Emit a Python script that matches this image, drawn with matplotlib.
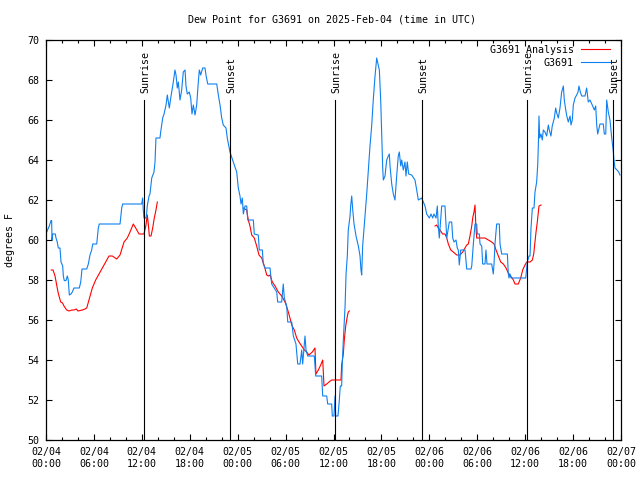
import numpy as np
import matplotlib
matplotlib.use("Agg")
import matplotlib.pyplot as plt
import matplotlib.transforms as mtransforms

plt.rcParams['font.family'] = ['DejaVu Sans Mono']
FS = 7.2

title = "Dew Point for G3691 on 2025-Feb-04 (time in UTC)"
ylabel = "degrees F"

# hours since 2025-02-04 00:00 UTC
blue_t = [0.09,0.41,0.63,0.71,0.75,0.84,1.16,1.25,1.41,1.54,1.75,1.88,2.09,2.17,2.29,2.5,2.67,2.79,2.92,3.13,3.29,3.5,4.17,4.35,4.51,5.1,5.3,5.51,5.72,5.85,6.35,6.55,6.67,9.27,9.48,9.6,11.98,12.1,12.18,12.27,12.52,12.6,12.68,12.9,13.02,13.24,13.52,13.65,13.77,14.27,14.36,14.61,14.78,15.03,15.19,15.44,15.62,15.82,15.94,16.15,16.28,16.44,16.57,16.78,16.99,17.19,17.41,17.53,17.69,17.94,18.12,18.28,18.45,18.66,18.87,19.07,19.2,19.37,19.62,19.91,20.03,20.25,21.38,21.58,21.79,22.0,22.2,22.54,22.7,23.04,23.45,23.88,24.08,24.29,24.42,24.58,24.71,24.92,25.13,25.26,25.96,26.08,26.58,26.71,27.09,27.21,27.42,28.05,28.26,28.89,29.01,29.51,29.71,29.84,30.14,30.27,30.77,30.97,31.3,31.52,31.81,32.02,32.14,32.43,32.56,32.77,33.6,33.77,34.52,34.65,35.15,35.27,35.77,35.85,36.06,36.19,36.27,36.56,36.73,36.85,37.02,37.1,37.23,37.45,37.57,37.73,37.85,38.07,38.15,38.28,38.41,38.57,38.82,39.11,39.32,39.44,39.53,39.65,39.86,40.16,40.36,40.57,40.78,40.98,41.2,41.41,41.57,41.74,41.91,42.04,42.16,42.24,42.45,42.66,42.86,42.99,43.08,43.29,43.49,43.7,43.91,44.11,44.24,44.42,44.54,44.74,44.95,45.08,45.24,45.41,45.79,46.2,46.42,46.62,47.04,47.46,47.67,48.0,48.21,48.42,48.58,48.84,49.0,49.12,49.25,49.42,49.55,49.96,50.09,50.18,50.38,50.5,50.8,50.93,51.09,51.34,51.5,51.63,51.75,51.93,52.47,52.68,53.22,53.31,53.51,53.72,53.93,54.01,54.26,54.35,54.56,54.68,54.97,55.09,55.22,55.81,56.01,56.1,56.22,56.43,56.76,56.85,57.06,57.77,57.89,57.98,58.1,58.23,60.07,60.27,60.48,60.61,60.73,60.9,61.11,61.23,61.44,61.57,61.65,61.73,61.82,61.98,62.15,62.27,62.48,62.69,62.9,63.02,63.23,63.39,63.65,63.82,63.95,64.15,64.36,64.57,64.78,64.9,65.08,65.21,65.4,65.62,65.74,65.9,66.03,66.24,66.45,66.62,66.74,66.9,67.08,67.49,67.7,67.9,68.11,68.4,68.66,68.83,68.96,69.08,69.37,69.78,69.91,70.09,70.21,70.41,70.62,70.84,71.04,71.12,71.25,71.5,71.71,71.87]
blue_v = [60.4,60.7,60.97,60.97,60.0,60.3,60.3,60.1,59.9,59.6,59.6,58.9,58.7,58.2,57.97,57.97,58.2,58.0,57.25,57.3,57.4,57.6,57.6,57.9,58.55,58.55,58.8,59.25,59.5,59.8,59.8,60.6,60.8,60.8,61.6,61.8,61.8,62.1,61.5,61.1,61.1,61.3,61.7,62.2,62.3,63.1,63.4,63.9,65.1,65.1,65.4,66.1,66.3,66.75,67.25,66.6,67.1,67.6,67.9,68.5,68.25,67.6,67.9,67.0,67.5,68.4,68.5,67.7,67.3,67.4,67.1,66.3,66.75,66.25,66.75,67.9,68.5,68.25,68.6,68.6,68.25,67.8,67.8,67.25,66.75,66.1,65.75,65.6,65.1,64.4,63.9,63.4,62.6,62.2,61.8,62.1,61.3,61.7,61.7,61.0,61.0,60.3,60.25,59.5,59.5,58.8,58.6,58.6,57.8,57.4,56.9,56.9,57.8,57.1,56.7,55.9,55.9,55.2,54.8,53.8,53.8,54.5,53.8,55.2,54.5,54.2,54.2,53.2,53.2,52.2,52.2,51.8,51.8,51.2,51.2,52.2,51.2,51.2,52.0,52.7,52.7,53.8,55.0,56.7,58.3,59.2,60.5,61.2,61.7,62.2,61.5,60.8,60.2,59.7,59.2,58.5,58.25,59.7,60.8,62.3,63.5,64.7,65.7,67.0,68.2,69.1,68.8,68.5,67.0,65.3,63.6,63.0,63.2,64.0,64.2,64.3,63.7,62.8,62.3,62.0,63.2,64.2,64.4,63.7,64.0,63.5,63.9,63.2,63.9,63.3,63.25,63.0,62.5,62.0,62.1,61.7,61.3,61.1,61.3,61.1,61.3,61.1,61.7,60.7,60.1,61.0,61.7,61.7,60.8,60.1,60.6,60.9,60.9,60.1,59.9,60.0,59.6,59.5,58.75,59.5,59.5,58.55,58.55,58.7,59.8,60.8,60.8,60.3,60.3,59.8,59.7,58.8,58.8,59.5,58.8,58.8,58.3,58.8,59.8,60.8,60.8,59.8,59.3,59.3,58.3,58.1,58.3,58.1,58.1,58.9,59.2,59.2,60.6,61.6,61.6,62.4,62.9,63.75,64.75,66.2,65.1,65.3,65.0,65.5,65.4,65.2,65.75,65.5,65.2,65.7,66.1,66.6,66.35,66.1,66.6,67.4,67.7,67.0,66.5,66.2,65.9,66.2,65.75,66.0,66.75,67.1,67.25,67.4,67.7,67.4,67.2,67.2,67.6,66.9,67.0,66.75,66.5,66.7,65.75,65.3,65.8,65.8,65.3,65.3,67.0,66.4,66.0,65.1,64.4,64.0,63.6,63.5,63.4,63.25]

red_t1 = [0.66,0.88,1.13,1.34,1.5,1.63,1.84,2.07,2.25,2.59,2.88,3.26,3.51,3.79,4.0,4.55,4.88,5.1,5.38,5.8,6.22,6.64,7.05,7.48,7.89,8.3,8.85,9.27,9.77,10.18,10.52,10.93,11.23,11.65,11.93,12.27,12.52,12.68,12.81,12.94,13.15,13.36,13.56,13.77,13.94]
red_v1 = [58.5,58.5,58.2,57.75,57.4,57.2,56.9,56.85,56.7,56.5,56.45,56.5,56.5,56.55,56.45,56.5,56.55,56.6,57.0,57.6,58.0,58.3,58.6,58.9,59.2,59.2,59.05,59.25,59.9,60.1,60.4,60.8,60.6,60.3,60.3,60.3,60.75,61.25,60.8,60.2,60.2,60.6,61.1,61.5,61.9]
red_t2 = [24.71,25.13,25.33,25.54,25.76,26.08,26.38,26.67,27.01,27.34,27.64,27.84,28.05,28.34,28.68,29.09,29.51,29.93,30.27,30.55,30.77,31.09,31.39,31.68,32.02,32.35,32.64,32.93,33.35,33.68,33.8,34.1,34.4,34.65,34.81,35.15,35.44,35.77,36.31,36.94,37.02,37.23,37.35,37.53,37.69,37.85,37.98]
red_v2 = [61.6,61.5,61.0,60.7,60.25,60.1,59.7,59.25,59.1,58.7,58.25,58.2,58.25,57.9,57.7,57.4,57.2,56.9,56.5,56.1,55.75,55.5,55.1,54.9,54.7,54.5,54.4,54.25,54.4,54.6,53.3,53.5,53.75,54.0,52.7,52.8,52.9,53.0,53.0,53.0,53.75,54.3,55.0,55.7,56.1,56.4,56.45]
red_t3 = [48.71,48.92,49.12,49.42,49.67,49.96,50.18,50.38,50.68,51.0,51.43,51.84,52.18,52.47,52.68,52.88,53.09,53.31,53.43,53.59,53.72,53.81,53.93,54.35,54.97,55.38,55.81,56.1,56.35,56.64,56.94,57.27,57.6,57.89,58.19,58.52,58.73,59.14,59.44,59.69,59.98,60.19,60.61,60.9,61.07,61.23,61.36,61.52,61.65,61.73,61.98]
red_v3 = [60.7,60.75,60.6,60.45,60.3,60.3,60.1,59.8,59.5,59.4,59.25,59.25,59.4,59.6,59.75,59.8,60.2,60.7,61.1,61.4,61.75,60.8,60.1,60.1,60.1,60.0,59.9,59.8,59.5,59.2,58.9,58.8,58.6,58.35,58.2,58.0,57.8,57.8,58.1,58.5,58.75,58.9,58.9,59.0,59.3,59.9,60.4,60.9,61.4,61.7,61.75]

sun_t = [12.3, 23.07, 36.2, 47.1, 60.2, 71.0]
sun_lbl = ["Sunrise", "Sunset", "Sunrise", "Sunset", "Sunrise", "Sunset"]

xtick_pos = [0, 6, 12, 18, 24, 30, 36, 42, 48, 54, 60, 66, 72]
xtick_lbl = ["02/04\n00:00", "02/04\n06:00", "02/04\n12:00", "02/04\n18:00",
             "02/05\n00:00", "02/05\n06:00", "02/05\n12:00", "02/05\n18:00",
             "02/06\n00:00", "02/06\n06:00", "02/06\n12:00", "02/06\n18:00",
             "02/07\n00:00"]
ytick_pos = [50, 52, 54, 56, 58, 60, 62, 64, 66, 68, 70]

RED = '#ff0000'
BLUE = '#0f80ef'

fig = plt.figure(figsize=(6.4, 4.8), dpi=100)
ax = fig.add_axes([46/640, 40/480, 575/640, 400/480])

red_t = red_t1 + [np.nan] + red_t2 + [np.nan] + red_t3
red_v = red_v1 + [np.nan] + red_v2 + [np.nan] + red_v3
ax.plot(red_t, red_v, color=RED, lw=0.8, label="G3691 Analysis")
ax.plot(blue_t, blue_v, color=BLUE, lw=0.8, label="G3691")

trans = mtransforms.blended_transform_factory(ax.transData, ax.transAxes)
for t, lab in zip(sun_t, sun_lbl):
    ax.plot([t, t], [0, 0.85], color='black', lw=0.8, transform=trans)
    ax.text(t + 0.15, 0.868, lab, rotation=90, ha='center', va='bottom',
            fontsize=FS, transform=trans)

ax.set_xlim(0, 72)
ax.set_ylim(50, 70)
ax.set_xticks(xtick_pos)
ax.set_xticklabels(xtick_lbl, fontsize=FS, linespacing=1.25)
ax.set_xticks(np.arange(0, 73, 2), minor=True)
ax.set_yticks(ytick_pos)
ax.set_yticklabels([str(v) for v in ytick_pos], fontsize=FS)
ax.tick_params(which='both', direction='in', top=True, right=True, width=0.8)
ax.tick_params(which='major', length=4.5)
ax.tick_params(which='minor', length=2.5)
ax.tick_params(axis='x', pad=5)
ax.tick_params(axis='y', pad=5)
for s in ax.spines.values():
    s.set_linewidth(0.9)

leg = ax.legend(loc='upper right', bbox_to_anchor=(1 - 11/575, 1 - 5/400),
                markerfirst=False, frameon=False, fontsize=FS,
                handlelength=2.9, handletextpad=0.7, borderaxespad=0.0,
                borderpad=0.0, labelspacing=0.28)

fig.text(332/640, 1 - 19/480, title, ha='center', va='center', fontsize=FS)
fig.text(10/640, 1 - 240/480, ylabel, ha='center', va='center', rotation=90, fontsize=FS)

fig.savefig("out.png", dpi=100)
